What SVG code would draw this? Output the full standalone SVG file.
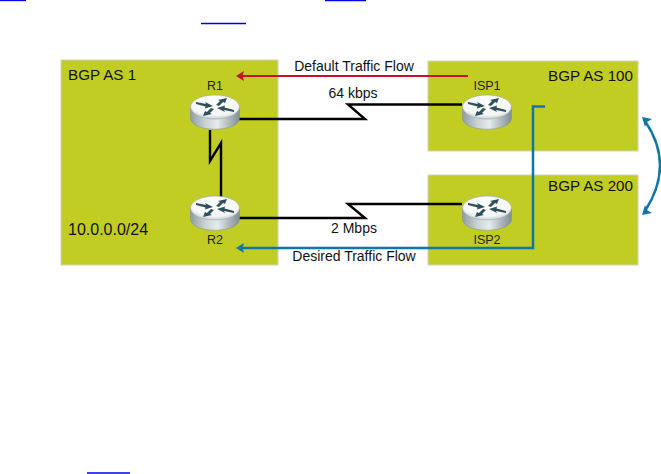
<svg xmlns="http://www.w3.org/2000/svg" width="661" height="474" viewBox="0 0 661 474">
<style>
.as{fill:#c1cd23;stroke:#cfd2c4;stroke-width:1}
text{font-family:"Liberation Sans",Arial,sans-serif;fill:#111}
.big{font-size:15.2px}.net{font-size:16px}.lab{font-size:14px}.rt{font-size:12.5px;fill:#222}
.lnk{fill:none;stroke:#000;stroke-width:2.400;stroke-linejoin:miter}
.ul{stroke:#0000e6;stroke-width:1.300}
.arw{fill:#2f4f5a}
</style>
<defs>
<linearGradient id="side" x1="0" x2="1" y1="0" y2="0">
<stop offset="0" stop-color="#8f9ea3"/><stop offset="0.3" stop-color="#c9d2d4"/><stop offset="0.55" stop-color="#e6ebec"/><stop offset="0.8" stop-color="#aab6ba"/><stop offset="1" stop-color="#7f8f95"/>
</linearGradient>
<radialGradient id="top" cx="0.5" cy="0.35" r="0.7">
<stop offset="0" stop-color="#ffffff"/><stop offset="0.7" stop-color="#f4f6f6"/><stop offset="1" stop-color="#b9c4c7"/>
</radialGradient>
<g id="rt">
<path d="M-24.500,-5 V6 C-24.500,21 24.500,21 24.500,6 V-5 Z" fill="url(#side)" stroke="#7e8c90" stroke-width="0.500"/>
<ellipse cx="0" cy="-5" rx="24.500" ry="12" fill="url(#top)" stroke="#9aa7ab" stroke-width="0.600"/>
<path class="arw" d="M-19,-10 L-9,-8 L-10,-10 L-2,-6 L-10,-3.500 L-9.500,-5.500 L-19,-8 Z"/>
<path class="arw" d="M1,-7 L5,-11 L3,-12 L12,-14 L10,-9 L8,-10 L4,-6 Z"/>
<path class="arw" d="M19,0 L9,-2 L10,0 L2,-4 L10,-6.500 L9.500,-4.500 L19,-2 Z"/>
<path class="arw" d="M-1,-3 L-5,1 L-3,2 L-12,4 L-10,-1 L-8,0 L-4,-4 Z"/>
</g>
</defs>
<g id="page-links">
<line class="ul" x1="0" y1="0.500" x2="26" y2="0.500"/>
<line class="ul" x1="325" y1="0.500" x2="366" y2="0.500"/>
<line class="ul" x1="201" y1="23.500" x2="246" y2="23.500"/>
<line class="ul" x1="87" y1="473" x2="130" y2="473"/>
</g>
<g id="as1"><rect class="as" x="61" y="60" width="217" height="205"/><text class="big" x="68" y="80">BGP AS 1</text><text class="net" x="68" y="235">10.0.0.0/24</text></g>
<g id="as100"><rect class="as" x="428" y="61" width="210" height="90"/><text class="big" x="548" y="81">BGP AS 100</text></g>
<g id="as200"><rect class="as" x="428" y="175" width="210" height="90"/><text class="big" x="548" y="191">BGP AS 200</text></g>
<g id="connectors">
<path class="lnk" d="M239,119 H365 L348,104.500 H462"/>
<path class="lnk" d="M239,218 H365 L348,204 H462"/>
<path class="lnk" d="M210,130 V161 L221,143 V197"/>
<path d="M468,76 H242" fill="none" stroke="#c8102e" stroke-width="2.200"/>
<path d="M236,76 L244,71 L242.500,76 L244,81 Z" fill="#c8102e"/>
<path d="M545,106.500 H533 V248 H242" fill="none" stroke="#0f76a8" stroke-width="2.500"/>
<path d="M236,248 L244,243 L242.500,248 L244,253 Z" fill="#0f76a8"/>
<path d="M645,121 Q675,165 645,211" fill="none" stroke="#0f76a8" stroke-width="2.500"/>
<path d="M642,117 L652,119 L647,122 L645,127 Z" fill="#0f76a8"/>
<path d="M642,215 L645,205 L647,210 L652,213 Z" fill="#0f76a8"/>
</g>
<g id="r1"><use href="#rt" x="215" y="112"/><text class="rt" x="215" y="90" text-anchor="middle">R1</text></g>
<g id="r2"><use href="#rt" x="215" y="213"/><text class="rt" x="215" y="244" text-anchor="middle">R2</text></g>
<g id="isp1"><use href="#rt" x="487" y="112"/><text class="rt" x="487" y="90" text-anchor="middle">ISP1</text></g>
<g id="isp2"><use href="#rt" x="487" y="213"/><text class="rt" x="487" y="244" text-anchor="middle">ISP2</text></g>
<g id="labels">
<text class="lab" x="354" y="71" text-anchor="middle">Default Traffic Flow</text>
<text class="lab" x="353" y="98" text-anchor="middle">64 kbps</text>
<text class="lab" x="354" y="233" text-anchor="middle">2 Mbps</text>
<text class="lab" x="354" y="261" text-anchor="middle">Desired Traffic Flow</text>
</g>
</svg>
